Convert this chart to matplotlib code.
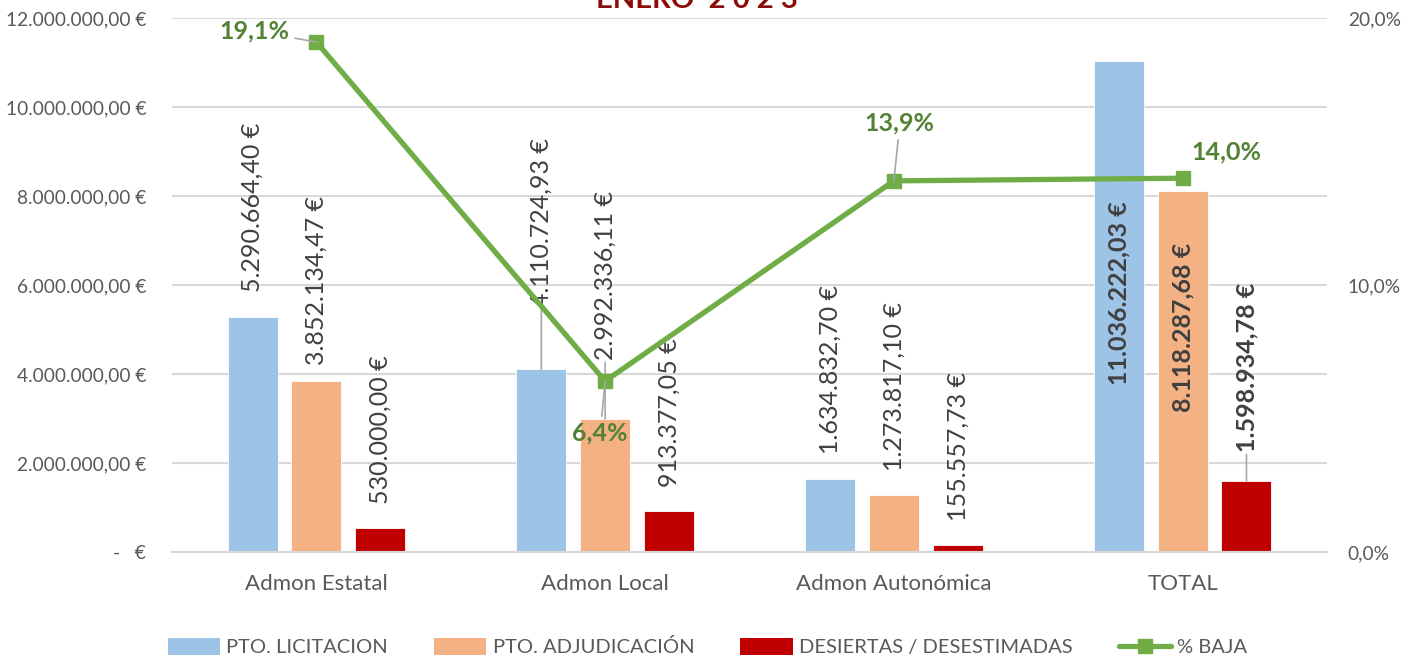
import matplotlib
matplotlib.use("Agg")
import matplotlib.pyplot as plt
from matplotlib.lines import Line2D
from matplotlib.patches import Patch
import numpy as np

# ---------------- data ----------------
categories = ['Admon Estatal', 'Admon Local', 'Admon Autonómica', 'TOTAL']
licitacion = [5290664.40, 4110724.93, 1634832.70, 11036222.03]
adjudicacion = [3852134.47, 2992336.11, 1273817.10, 8118287.68]
desiertas = [530000.00, 913377.05, 155557.73, 1598934.78]
baja = [0.191, 0.064, 0.139, 0.140]
series_names = ['PTO. LICITACION', 'PTO. ADJUDICACIÓN', 'DESIERTAS / DESESTIMADAS']
line_name = '% BAJA'
title = 'ENERO  2 0 2 3'

# ---------------- style / layout ----------------
FONT = ['Lato', 'DejaVu Sans']
plt.rcParams['font.family'] = FONT
C_BLUE, C_ORANGE, C_RED, C_GREEN = '#9DC3E6', '#F4B183', '#C00000', '#70AD47'
C_GREEN_TXT = '#548235'
C_TXT = '#404040'
C_AX = '#595959'
C_GRID = '#D9D9D9'
C_LEADER = '#A6A6A6'

# label offsets in pixels (dx, dy) from bar top, and which get leader lines
bar_label_offsets = [
    [(0, 25), (0, 62), (0, 25), (0, -324)],   # licitacion
    [(0, 16), (0, 59), (0, 24), (0, -221)],   # adjudicacion
    [(0, 24), (0, 24), (0, 24), (0, 29)],     # desiertas
]
bar_leaders = [
    [False, True, False, False],
    [False, True, False, False],
    [False, False, False, True],
]
pct_offsets = [(-62, 11), (-5, -52), (6, 58), (44, 26)]
pct_leaders = [True, True, True, False]

W, H, DPI = 14.15, 6.61, 100
fig = plt.figure(figsize=(W, H), dpi=DPI)
ax = fig.add_axes([172/1415, 1-552/661, (1327-172)/1415, (552-18)/661])
ax2 = ax.twinx()

x = np.arange(len(categories))
bw = 0.173
off = 0.221
colors = [C_BLUE, C_ORANGE, C_RED]
all_series = [licitacion, adjudicacion, desiertas]


def eur(v):
    s = f"{v:,.2f}".replace(',', 'X').replace('.', ',').replace('X', '.')
    return s + " €"


def eur_tick(v, pos=None):
    if abs(v) < 1e-9:
        return "-   €"
    return eur(v)


for si, (vals, col) in enumerate(zip(all_series, colors)):
    xs = x + (si - 1) * off
    ax.bar(xs, vals, width=bw, color=col, edgecolor='white', linewidth=0.6, zorder=2)
    for ci, (xx, v) in enumerate(zip(xs, vals)):
        dx, dy = bar_label_offsets[si][ci]
        bold = categories[ci] == 'TOTAL'
        ap = None
        if bar_leaders[si][ci]:
            ap = dict(arrowstyle='-', color=C_LEADER, lw=1.2, shrinkA=0, shrinkB=0)
        ax.annotate(eur(v), xy=(xx, v), xytext=(dx, dy), textcoords='offset pixels',
                    rotation=90, ha='center', va='bottom', fontsize=18,
                    fontweight='bold' if bold else 'normal', color=C_TXT,
                    arrowprops=ap, zorder=5)

ax.set_xlim(-0.5, len(categories) - 0.5)
ax.set_ylim(0, 12e6)
ax.set_yticks(np.arange(0, 12e6 + 1, 2e6))
ax.yaxis.set_major_formatter(plt.FuncFormatter(eur_tick))
ax.set_xticks(x)
ax.set_xticklabels(categories)
ax.tick_params(axis='x', length=0, pad=16, labelsize=16, labelcolor=C_AX)
ax.tick_params(axis='y', length=0, pad=18.5, labelsize=13.8, labelcolor=C_AX)
ax.grid(axis='y', color=C_GRID, lw=1.5, zorder=0)
ax.set_axisbelow(True)
for sp in ['top', 'right', 'left']:
    ax.spines[sp].set_visible(False)
ax.spines['bottom'].set_color(C_GRID)
ax.spines['bottom'].set_linewidth(1.5)

# secondary axis line
ax2.plot(x, baja, color=C_GREEN, lw=3.8, marker='s', markersize=10,
         markerfacecolor=C_GREEN, markeredgecolor=C_GREEN, zorder=6)
ax2.set_ylim(0, 0.2)
ax2.set_yticks([0, 0.1, 0.2])
ax2.set_yticklabels([f"{t*100:.1f}%".replace('.', ',') for t in [0, 0.1, 0.2]])
ax2.tick_params(axis='y', length=0, pad=15, labelsize=13.8, labelcolor=C_AX)
for sp in ax2.spines.values():
    sp.set_visible(False)

for ci, (xx, v) in enumerate(zip(x, baja)):
    dx, dy = pct_offsets[ci]
    ap = None
    if pct_leaders[ci]:
        ap = dict(arrowstyle='-', color=C_LEADER, lw=1.2, shrinkA=2, shrinkB=0)
    ax2.annotate(f"{v*100:.1f}%".replace('.', ','), xy=(xx, v), xytext=(dx, dy),
                 textcoords='offset pixels', ha='center', va='center',
                 fontsize=18, fontweight='bold', color=C_GREEN_TXT,
                 arrowprops=ap, zorder=7)

# title (cut at top as in reference)
fig.text(697/1415, 1 - 8/661, title, ha='center', va='baseline', fontsize=21,
         fontweight='bold', color='#8B0A0A')

# legend
handles = [Patch(facecolor=c, edgecolor='none') for c in colors]
handles.append(Line2D([0], [0], color=C_GREEN, lw=3.8, marker='s', markersize=10,
                      solid_capstyle='round'))
labels = series_names + [line_name]
fig.legend(handles, labels, ncol=4, loc='center', bbox_to_anchor=(0.5, 1 - 647/661),
           frameon=False, fontsize=14.5, labelcolor=C_AX, handlelength=2.6,
           handleheight=0.9, columnspacing=2.3, handletextpad=0.3)

fig.savefig('out.png', dpi=DPI)
